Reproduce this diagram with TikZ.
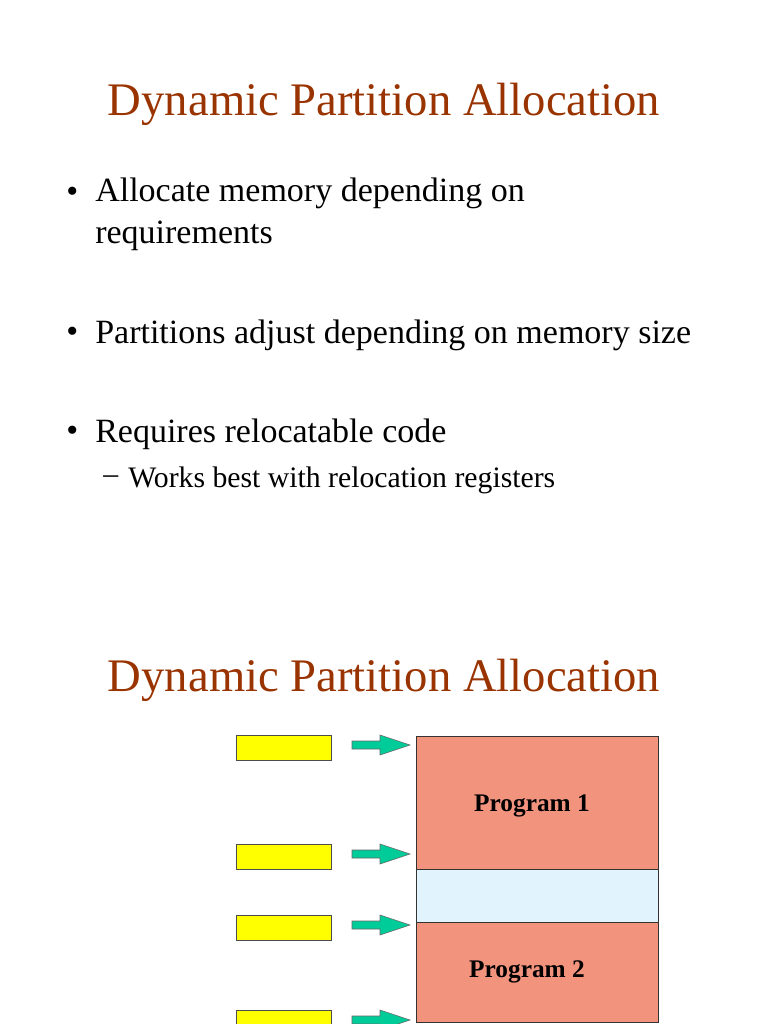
\documentclass[tikz,border=0pt]{standalone}
\usepackage{fontspec}
\setmainfont{Liberation Serif}
\definecolor{ttl}{HTML}{993300}
\definecolor{prog}{HTML}{F2937E}
\definecolor{gap}{HTML}{E1F3FD}
\definecolor{arr}{HTML}{00CC99}
\definecolor{yel}{HTML}{FFFF00}
\begin{document}
\begin{tikzpicture}[x=0.75pt,y=-0.75pt,
  title/.style={text=ttl,font=\fontsize{35}{42}\selectfont,inner sep=0},
  body/.style={anchor=west,font=\fontsize{25.5}{31.5}\selectfont,inner sep=0,align=left},
  sub/.style={anchor=west,font=\fontsize{22.3}{26}\selectfont,inner sep=0},
  ybox/.style={draw=black!70,fill=yel,minimum width=71pt,minimum height=18.5pt,inner sep=0},
  block/.style={draw=black!80,minimum width=181.5pt,inner sep=0},
  garr/.style={fill=arr,draw=black!60,line width=0.4pt}]
\useasboundingbox (0,0) rectangle (768,1024);
\node[title] (t1) at (384,104) {Dynamic Partition Allocation};
\node[body] (b1) at (66,195) {•};
\node[body] (l1) at (95,214) {Allocate memory depending on\\requirements};
\node[body] (b2) at (66,335) {•};
\node[body] (l2) at (95,335) {Partitions adjust depending on memory size};
\node[body] (b3) at (66,434) {•};
\node[body] (l3) at (95,434) {Requires relocatable code};
\node[sub] (d1) at (103,480) {–};
\node[sub] (s1) at (128,480) {Works best with relocation registers};
\node[title] (t2) at (384,680) {Dynamic Partition Allocation};
\node[block,fill=prog,minimum height=99.75pt,anchor=north west] (p1) at (416,736) {};
\node[block,fill=gap,minimum height=39.75pt,anchor=north west] (g) at (416,869) {};
\node[block,fill=prog,minimum height=75pt,anchor=north west] (p2) at (416,922) {};
\node[font=\bfseries\fontsize{19}{22}\selectfont] at (532,806) {Program 1};
\node[font=\bfseries\fontsize{19}{22}\selectfont] at (527,972) {Program 2};
\foreach \y/\n in {745/a,854/b,925/c,1020/d}{
  \node[ybox,anchor=west] (y\n) at (236,\y+3) {};
  \draw[garr] (352,\y-4) -- (380,\y-4) -- (380,\y-10) -- (410,\y) -- (380,\y+10) -- (380,\y+4) -- (352,\y+4) -- cycle;
}
\end{tikzpicture}
\end{document}
